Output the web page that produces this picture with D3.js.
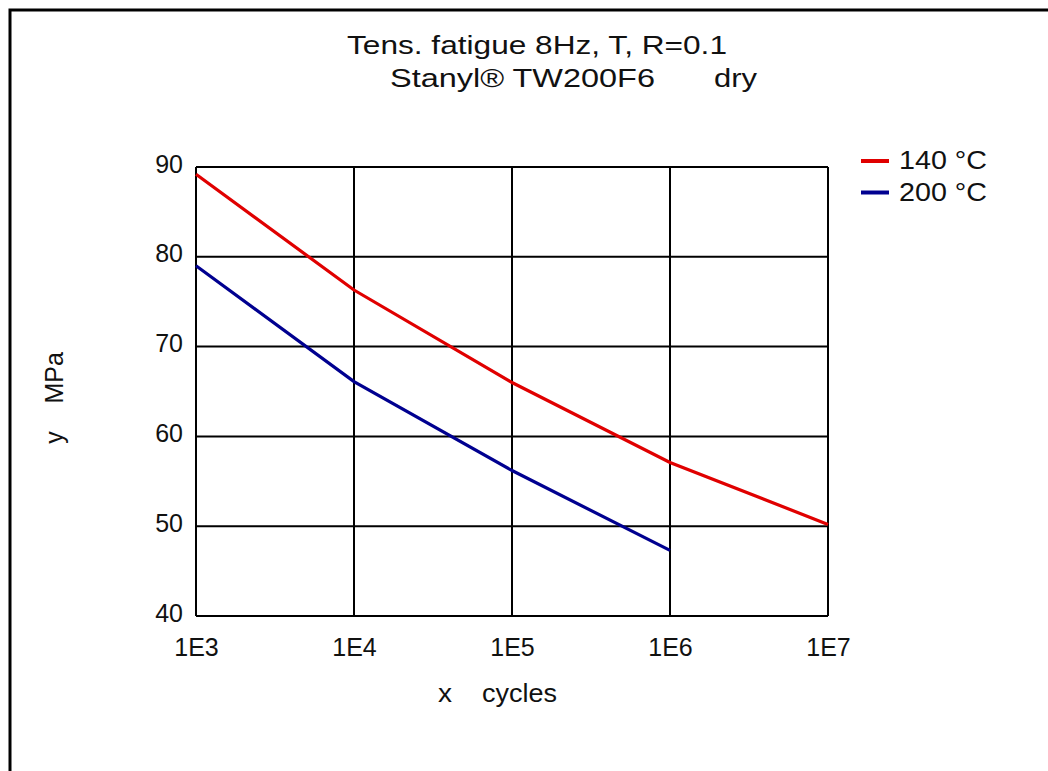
<!DOCTYPE html>
<html>
<head>
<meta charset="utf-8">
<script src="https://cdn.jsdelivr.net/npm/d3@7"></script>
<style>
  body { margin: 0; background: #fff; }
  svg text { font-family: "Liberation Sans", Arial, sans-serif; fill: #111; }
</style>
</head>
<body>
<div id="chart"></div>
<script>
'use strict';

// values, one per decade of cycles
let cycles = [1e3, 1e4, 1e5, 1e6, 1e7],
    stress140 = [89.2, 76.3, 66.0, 57.1, 50.2],
    stress200 = [79.0, 66.1, 56.2, 47.3],
    xTicks = [1e3, 1e4, 1e5, 1e6, 1e7],
    xTickLabels = ['1E3', '1E4', '1E5', '1E6', '1E7'],
    yTicks = [40, 50, 60, 70, 80, 90],
    seriesNames = ['140 °C', '200 °C'],
    seriesColors = ['#e00000', '#000090'];

let svgWidth = 1048,
    svgHeight = 771,
    plot = { left: 196, top: 167, right: 828, bottom: 616 },
    fontSize = 25;

let svg = d3.select('#chart').append('svg')
    .attr('width', svgWidth)
    .attr('height', svgHeight);

// frame: only top and left edges are drawn
svg.append('path')
    .attr('d', `M10,${svgHeight} V10 H${svgWidth}`)
    .attr('fill', 'none')
    .attr('stroke', '#000')
    .attr('stroke-width', 3);

let xScale = d3.scaleLog()
    .domain([1e3, 1e7])
    .range([plot.left, plot.right]);

let yScale = d3.scaleLinear()
    .domain([40, 90])
    .range([plot.bottom, plot.top]);

let grid = svg.append('g')
    .attr('stroke', '#000')
    .attr('stroke-width', 2);

grid.selectAll('.vline')
    .data(xTicks).enter().append('line')
    .attr('x1', d => xScale(d)).attr('x2', d => xScale(d))
    .attr('y1', plot.top).attr('y2', plot.bottom);

grid.selectAll('.hline')
    .data(yTicks).enter().append('line')
    .attr('y1', d => yScale(d)).attr('y2', d => yScale(d))
    .attr('x1', plot.left).attr('x2', plot.right);

// tick labels
let xAxis = d3.axisBottom(xScale)
    .tickValues(xTicks)
    .tickSize(0)
    .tickPadding(22)
    .tickFormat((d, i) => xTickLabels[i]);

let yAxis = d3.axisLeft(yScale)
    .tickValues(yTicks)
    .tickSize(0)
    .tickPadding(13);

svg.append('g')
    .attr('transform', `translate(0, ${plot.bottom})`)
    .call(xAxis)
    .call(g => g.select('.domain').remove())
    .selectAll('text')
    .style('font-size', fontSize + 'px')
    .attr('fill', '#111');

svg.append('g')
    .attr('transform', `translate(${plot.left}, 0)`)
    .call(yAxis)
    .call(g => g.select('.domain').remove())
    .selectAll('text')
    .style('font-size', fontSize + 'px')
    .attr('dy', '0.2em')
    .attr('fill', '#111');

// curves
let line = d3.line()
    .x(d => xScale(d[0]))
    .y(d => yScale(d[1]));

[stress140, stress200].forEach((vals, i) => {
    svg.append('path')
        .datum(vals.map((v, j) => [cycles[j], v]))
        .attr('fill', 'none')
        .attr('stroke', seriesColors[i])
        .attr('stroke-width', 3.2)
        .attr('d', line);
});

// titles (the original font is drawn wide, so stretch to the measured widths)
function stretchedText(x, y, str, len, size) {
    return svg.append('text')
        .attr('x', x).attr('y', y)
        .attr('textLength', len)
        .attr('lengthAdjust', 'spacingAndGlyphs')
        .style('font-size', size + 'px')
        .text(str);
}

stretchedText(347, 54, 'Tens. fatigue 8Hz, T, R=0.1', 380, 25);
stretchedText(390, 87, 'Stanyl® TW200F6', 265, 25);
stretchedText(714, 87, 'dry', 43, 25);

stretchedText(438, 702, 'x', 14, fontSize);
stretchedText(482, 702, 'cycles', 75, fontSize);

svg.append('text')
    .attr('transform', 'translate(63, 398) rotate(-90)')
    .attr('text-anchor', 'middle')
    .attr('xml:space', 'preserve')
    .style('font-size', fontSize + 'px')
    .text('y    MPa');

// legend
let legend = svg.append('g')
    .selectAll('g')
    .data(seriesNames).enter().append('g')
    .attr('transform', (d, i) => `translate(861, ${161 + i * 31.5})`);

legend.append('line')
    .attr('x1', 0).attr('x2', 28)
    .attr('stroke', (d, i) => seriesColors[i])
    .attr('stroke-width', 4);

legend.append('text')
    .attr('x', 38).attr('y', 8)
    .attr('textLength', 88)
    .attr('lengthAdjust', 'spacingAndGlyphs')
    .style('font-size', fontSize + 'px')
    .text(d => d);
</script>
</body>
</html>
